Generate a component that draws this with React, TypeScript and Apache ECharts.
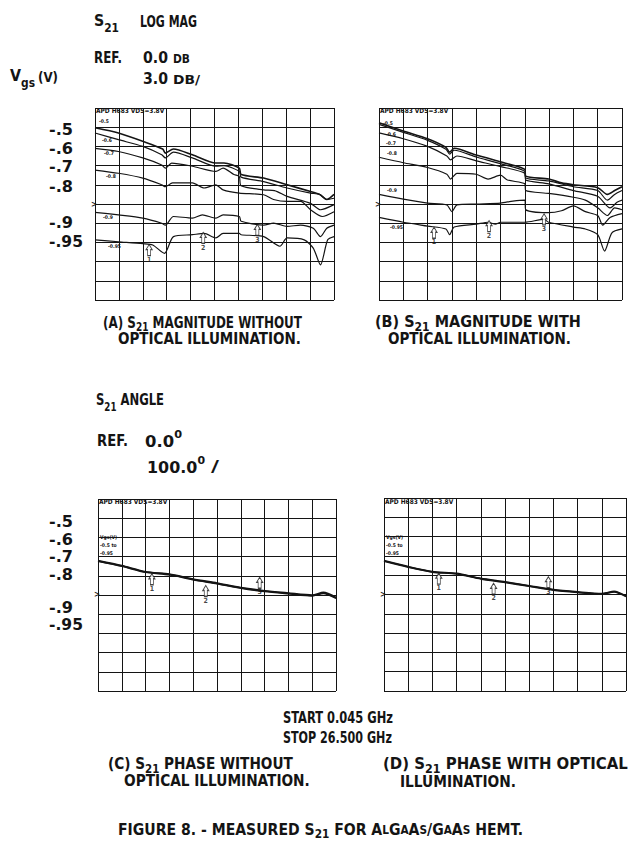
import React, { useEffect, useRef } from 'react';
import * as echarts from 'echarts';

const FONT = '"DejaVu Sans Condensed", "Liberation Sans Narrow", "DejaVu Sans", sans-serif';
const INK = '#141414';

// Frequency axis (GHz) and vertical scales
const F_MIN = 0;
const F_MAX = 26.5;
const F_STEP = 2.65;
const DB_DIV = 3; // 3.0 dB / div
const DEG_DIV = 100; // 100 deg / div

// Panel A: S21 magnitude (dB) without illumination, [GHz, dB]
const magA_05 = [[0,11.9],[2.6,11.1],[5.3,9.8],[7.5,8.6],[7.8,7.95],[8.7,8.6],[10.8,7.7],[13.4,6.4],[14.3,6.4],[16.0,5.6],[16.2,4.6],[18.7,4.05],[21.3,3.0],[23.9,1.95],[24.9,1.5],[25.7,0.7],[26.5,1.5]];
const magA_06 = [[0,11.1],[2.6,10.05],[5.3,9.0],[7.4,7.7],[7.8,7.2],[8.7,8.1],[10.8,7.2],[13.4,5.9],[14.3,6.0],[16.0,5.1],[16.2,4.2],[18.7,3.5],[21.3,2.5],[23.9,1.7],[24.9,1.5],[25.7,0.7],[26.5,0.9]];
const magA_07 = [[0,8.7],[2.6,8.2],[5.3,7.2],[7.4,6.1],[7.8,5.6],[8.5,6.4],[10.8,5.9],[13.4,5.1],[14.2,5.6],[15.4,4.6],[16.0,4.3],[16.2,2.85],[18.7,2.2],[19.9,2.1],[21.3,1.2],[23.9,0.1],[25.0,-0.9],[26.5,-0.1]];
const magA_08 = [[0,5.3],[2.6,4.8],[5.3,4.05],[7.4,3.0],[7.8,2.7],[8.6,3.3],[10.8,3.3],[12.1,2.5],[13.4,3.0],[14.2,2.2],[16.0,1.7],[18.7,1.45],[19.8,0.7],[21.3,0.4],[22.8,0.4],[23.9,-0.9],[25.2,-1.95],[26.5,-1.2]];
const magA_09 = [[0,-1.3],[2.6,-1.7],[5.3,-2.2],[7.4,-3.0],[7.8,-3.3],[8.7,-1.95],[10.8,-2.2],[11.9,-1.7],[13.4,-2.2],[14.2,-1.7],[16.0,-1.95],[16.2,-2.7],[18.7,-3.3],[19.8,-3.0],[21.3,-3.5],[22.8,-3.3],[24.2,-3.8],[25.0,-5.1],[25.7,-3.8],[26.5,-3.3]];
const magA_095 = [[0,-5.6],[2.6,-5.9],[5.3,-6.2],[6.4,-6.4],[7.7,-7.7],[8.7,-5.1],[10.8,-4.8],[12.1,-4.6],[13.4,-5.3],[14.2,-4.6],[16.0,-4.6],[16.2,-4.8],[18.7,-5.1],[20.5,-6.6],[21.3,-5.3],[23.2,-5.6],[24.2,-6.9],[25.0,-9.5],[25.8,-5.6],[26.5,-5.1]];

// Panel B: S21 magnitude (dB) with illumination, [GHz, dB]
const magB_05 = [[0,12.7],[2.65,11.4],[5.3,10.2],[7.3,8.85],[7.7,8.1],[8.2,8.7],[10.6,7.65],[13.25,6.6],[14.0,6.3],[15.9,5.4],[16.0,4.35],[18.5,3.9],[19.9,3.3],[21.2,3.0],[23.85,2.55],[24.9,1.5],[25.7,2.1],[26.5,2.7]];
const magB_06 = [[0,12.45],[2.65,11.2],[5.3,9.95],[7.3,8.55],[7.7,7.8],[8.2,8.4],[10.6,7.35],[13.25,6.3],[15.9,5.1],[16.0,4.05],[18.5,3.6],[21.2,2.7],[23.85,2.1],[24.9,0.6],[25.7,1.5],[26.5,2.1]];
const magB_07 = [[0,11.1],[2.65,10.2],[5.3,9.0],[7.4,7.5],[7.8,6.9],[8.5,7.5],[10.6,6.75],[13.25,5.85],[15.9,4.8],[16.0,3.75],[18.5,3.15],[21.2,2.1],[23.85,1.2],[25.2,-0.6],[26.0,0.3],[26.5,0.6]];
const magB_08 = [[0,7.3],[2.65,6.45],[5.3,5.7],[7.4,4.65],[7.8,3.9],[8.5,4.8],[10.6,4.65],[11.9,3.9],[13.25,4.5],[14.0,3.75],[15.9,3.15],[16.0,2.1],[18.5,1.65],[21.2,1.05],[22.5,0.6],[23.85,-0.6],[24.9,-1.8],[25.7,-0.6],[26.5,-0.9]];
const magB_09 = [[0,1.5],[2.65,0.75],[5.3,0.15],[7.4,-0.15],[7.95,-1.2],[8.5,-0.15],[10.6,0],[13.25,0.15],[14.6,0.45],[15.9,0.6],[16.0,-0.9],[18.5,-1.35],[19.9,-1.05],[21.2,-0.3],[22.5,-1.2],[23.85,-1.8],[24.4,-3.3],[25.2,-2.1],[26.5,-1.5]];
const magB_095 = [[0,-2.1],[2.65,-2.85],[5.3,-3.45],[7.3,-3.9],[7.7,-4.8],[8.2,-3.6],[10.6,-3.15],[11.9,-2.85],[12.7,-3.15],[13.25,-2.85],[15.9,-2.85],[18.0,-2.4],[18.5,-2.85],[21.2,-3.6],[22.5,-3.9],[23.85,-4.8],[24.6,-7.35],[25.4,-4.5],[26.5,-3.9]];

// Panels C and D: S21 phase (deg), [GHz, deg]
const phC_05 = [[0,180],[2.65,154],[5.3,122],[7.95,110],[10.6,84],[13.25,63],[15.9,40],[18.55,23],[21.2,11],[23.85,0],[25.1,14],[26.5,-12]];
const phC_09 = [[0,177],[2.65,151],[5.3,120],[7.95,107],[10.6,81],[13.25,60],[15.9,37],[18.55,20],[21.2,8],[23.85,-3],[25.1,10],[26.5,-15]];
const phC_095 = [[0,175],[2.65,149],[5.3,118],[7.95,105],[10.6,79],[13.25,58],[15.9,35],[18.55,18],[21.2,6],[23.85,-5],[25.1,8],[26.5,-17]];
const phD_05 = [[0,176],[2.65,145],[5.3,119],[7.95,110],[10.6,84],[13.25,66],[15.9,46],[18.55,26],[21.2,14],[23.85,5],[25.2,17],[26.5,-7]];
const phD_09 = [[0,174],[2.65,143],[5.3,117],[7.95,108],[10.6,82],[13.25,64],[15.9,44],[18.55,24],[21.2,12],[23.85,3],[25.2,15],[26.5,-9]];
const phD_095 = [[0,172],[2.65,141],[5.3,115],[7.95,106],[10.6,80],[13.25,62],[15.9,42],[18.55,22],[21.2,10],[23.85,1],[25.2,13],[26.5,-11]];

// Markers 1..3 at 6, 12, 18 GHz: [GHz, value, label]
const markA = [[6.0,-7.2,'1'],[12.0,-5.3,'2'],[18.0,-4.05,'3']];
const markB = [[6.0,-4.5,'1'],[12.0,-3.45,'2'],[18.0,-2.4,'3']];
const markC = [[6.0,82,'1'],[12.0,21,'2'],[18.0,64,'3']];
const markD = [[6.0,82,'1'],[12.0,30,'2'],[18.0,64,'3']];

// Vgs labels on the left
const vgsTicks = ['-.5', '-.6', '-.7', '-.8', '-.9', '-.95'];
const curveTags = ['-0.5', '-0.6', '-0.7', '-0.8', '-0.9', '-0.95'];

const ctx = typeof document !== 'undefined' ? document.createElement('canvas').getContext('2d') : null;
function measure(t: string, size: number) {
  if (!ctx) return t.length * size * 0.6;
  ctx.font = `bold ${size}px ${FONT}`;
  return ctx.measureText(t).width;
}

function txt(x: number, y: number, text: string, size: number, sx = 1): any {
  return {
    type: 'text', x, y, scaleX: sx, silent: true,
    style: {
      text, fill: INK, font: `bold ${size}px ${FONT}`,
      textAlign: 'left', textVerticalAlign: 'middle', align: 'left', verticalAlign: 'middle',
    },
  };
}

// parts: [text, size, dy]; the whole line is horizontally fitted to width w
function line(x: number, y: number, w: number, parts: [string, number, number][]): any[] {
  const widths = parts.map(([t, s]) => measure(t, s));
  const total = widths.reduce((a, b) => a + b, 0);
  const sx = w / total;
  const out: any[] = [];
  let cx = x;
  parts.forEach(([t, s, dy], k) => {
    out.push(txt(cx, y + dy, t, s, sx));
    cx += widths[k] * sx;
  });
  return out;
}

const M = 16; // main text size
const SUB = 12;

const PANELS = [
  { left: 95, top: 108, width: 239, height: 192, kind: 'mag' },
  { left: 379, top: 108, width: 243, height: 192, kind: 'mag' },
  { left: 98, top: 499, width: 238, height: 192, kind: 'ph' },
  { left: 384, top: 498, width: 242, height: 193, kind: 'ph' },
];

export default function App() {
  const ref = useRef<HTMLDivElement>(null);
  useEffect(() => {
    if (!ref.current) return;
    const chart = echarts.init(ref.current, null, { renderer: 'svg' });

    const grid = PANELS.map((p) => ({ left: p.left, top: p.top, width: p.width, height: p.height, containLabel: false }));
    const xAxis = PANELS.map((_, i) => ({
      type: 'value', gridIndex: i, min: F_MIN, max: F_MAX, interval: F_STEP,
      axisLabel: { show: false }, axisTick: { show: false }, axisLine: { show: false },
      splitLine: { show: true, lineStyle: { color: INK, width: 1 } },
    }));
    const yAxis = PANELS.map((p, i) => {
      const d = p.kind === 'mag' ? DB_DIV : DEG_DIV;
      return {
        type: 'value', gridIndex: i, min: -5 * d, max: 5 * d, interval: d,
        axisLabel: { show: false }, axisTick: { show: false }, axisLine: { show: false },
        splitLine: { show: true, lineStyle: { color: INK, width: 1 } },
      };
    });

    const trace = (data: number[][], i: number, w = 1.2) => ({
      type: 'line', xAxisIndex: i, yAxisIndex: i, data, showSymbol: false, symbol: 'none',
      smooth: 0.25, lineStyle: { color: INK, width: w }, silent: true, z: 3,
    });
    const markers = (m: any[], i: number) => ({
      type: 'scatter', xAxisIndex: i, yAxisIndex: i, silent: true, z: 4,
      symbol: 'path://M4,0 L8,5 L6,5 L6,11 L2,11 L2,5 L0,5 Z', symbolSize: [6, 11],
      itemStyle: { color: '#fff', borderColor: INK, borderWidth: 1 },
      label: { show: true, position: 'bottom', distance: 0, formatter: '{b}', fontSize: 7, fontWeight: 'bold', color: INK, fontFamily: FONT },
      data: m.map((d) => ({ value: [d[0], d[1]], name: d[2] })),
    });

    const series: any[] = [
      trace(magA_05, 0, 1.6), trace(magA_06, 0), trace(magA_07, 0), trace(magA_08, 0), trace(magA_09, 0), trace(magA_095, 0),
      trace(magB_05, 1, 1.6), trace(magB_06, 1), trace(magB_07, 1), trace(magB_08, 1), trace(magB_09, 1), trace(magB_095, 1),
      trace(phC_05, 2, 1.4), trace(phC_09, 2, 1.4), trace(phC_095, 2, 1.4),
      trace(phD_05, 3, 1.4), trace(phD_09, 3, 1.4), trace(phD_095, 3, 1.4),
      markers(markA, 0), markers(markB, 1), markers(markC, 2), markers(markD, 3),
    ];

    const g: any[] = [];
    // Header: magnitude
    g.push(...line(94, 20, 25, [['S', M, 0], ['21', SUB, 8]]));
    g.push(...line(140, 21, 57, [['LOG MAG', M, 0]]));
    g.push(...line(94, 57, 28, [['REF.', M, 0]]));
    g.push(...line(143, 57, 25, [['0.0', M, 0]]));
    g.push(...line(173, 58, 17, [['DB', 13, 0]]));
    g.push(...line(143, 78, 25, [['3.0', M, 0]]));
    g.push(...line(173, 79, 27, [['DB/', 13, 0]]));
    g.push(...line(10, 75, 25, [['V', M, 0], ['gs', SUB, 8]]));
    g.push(...line(38, 77, 20, [['(V)', 14, 0]]));
    // Vgs labels
    const yA = [129, 148, 166, 186, 222, 242];
    const yC = [521, 539, 556, 574, 607, 625];
    vgsTicks.forEach((t, k) => {
      const w = t.length === 3 ? 24 : 34;
      g.push(...line(49, yA[k], w, [[t, M, 0]]));
      g.push(...line(49, yC[k], w, [[t, M, 0]]));
    });
    // tiny in-plot annotations
    g.push(txt(96, 111, 'APD H683 VDS=3.8V', 6.5));
    g.push(txt(380, 111, 'APD H683 VDS=3.8V', 6.5));
    g.push(txt(99, 502, 'APD H683 VDS=3.8V', 6.5));
    g.push(txt(385, 502, 'APD H683 VDS=3.8V', 6.5));
    const tagA = [[99, 121], [102, 140], [104, 153], [106, 176], [103, 217], [108, 246]];
    const tagB = [[383, 123], [386, 134], [386, 143], [387, 153], [387, 190], [390, 227]];
    curveTags.forEach((t, k) => {
      g.push(txt(tagA[k][0], tagA[k][1], t, 5));
      g.push(txt(tagB[k][0], tagB[k][1], t, 5));
    });
    ['Vgs(V)', '-0.5 to', '-0.95'].forEach((t, k) => {
      g.push(txt(100, 537 + 8 * k, t, 5));
      g.push(txt(386, 537 + 8 * k, t, 5));
    });
    // reference position markers
    g.push(txt(91, 204, '>', 8)); g.push(txt(375, 204, '>', 8));
    g.push(txt(94, 594, '>', 8)); g.push(txt(380, 594, '>', 8));
    // Captions
    g.push(...line(103, 322, 199, [['(A) S', M, 0], ['21', SUB, 5], [' MAGNITUDE WITHOUT', M, 0]]));
    g.push(...line(118, 339, 183, [['OPTICAL ILLUMINATION.', M, 0]]));
    g.push(...line(375, 322, 206, [['(B) S', M, 0], ['21', SUB, 5], [' MAGNITUDE WITH', M, 0]]));
    g.push(...line(388, 339, 183, [['OPTICAL ILLUMINATION.', M, 0]]));
    // Header: angle
    g.push(...line(96, 399, 68, [['S', M, 0], ['21', SUB, 8], [' ANGLE', M, 0]]));
    g.push(...line(97, 441, 31, [['REF.', M, 0]]));
    g.push(...line(145, 441, 37, [['0.0', M, 0], ['0', 11, -7]]));
    g.push(...line(147, 467, 58, [['100.0', M, 0], ['0', 11, -7]]));
    g.push(...line(211, 467, 8, [['/', M, 0]]));
    g.push(...line(283, 717, 110, [['START 0.045 GHz', M, 0]]));
    g.push(...line(283, 737, 109, [['STOP 26.500 GHz', M, 0]]));
    g.push(...line(108, 764, 185, [['(C) S', M, 0], ['21', SUB, 5], [' PHASE WITHOUT', M, 0]]));
    g.push(...line(124, 781, 186, [['OPTICAL ILLUMINATION.', M, 0]]));
    g.push(...line(383, 764, 245, [['(D) S', M, 0], ['21', SUB, 5], [' PHASE WITH OPTICAL', M, 0]]));
    g.push(...line(400, 781, 116, [['ILLUMINATION.', M, 0]]));
    g.push(...line(118, 829, 405, [
      ['FIGURE 8. - MEASURED S', M, 0], ['21', SUB, 5], [' FOR A', M, 0], ['L', 12, 1], ['G', M, 0], ['A', 12, 1],
      ['A', M, 0], ['S', 12, 1], ['/G', M, 0], ['A', 12, 1], ['A', M, 0], ['S', 12, 1], [' HEMT.', M, 0],
    ]));

    chart.setOption({
      animation: false,
      backgroundColor: '#ffffff',
      grid, xAxis, yAxis, series,
      graphic: { elements: g },
    });
    return () => chart.dispose();
  }, []);
  return <div ref={ref} style={{ position: 'fixed', left: 0, top: 0, width: 629, height: 850, background: '#fff' }} />;
}
